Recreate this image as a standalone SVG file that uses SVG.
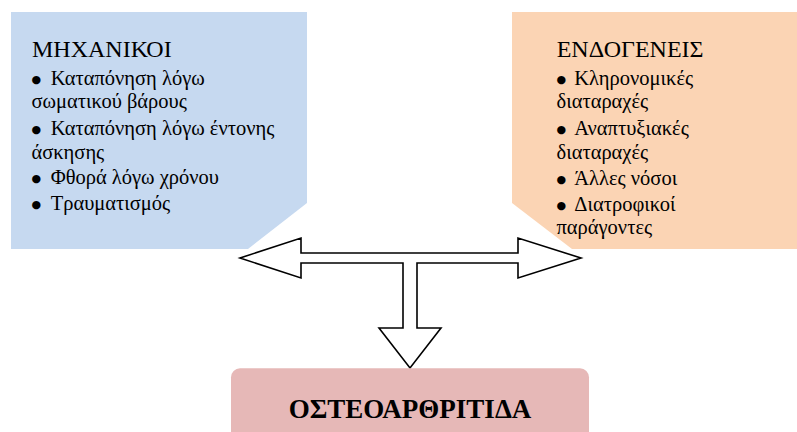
<svg xmlns="http://www.w3.org/2000/svg" width="797" height="432" viewBox="0 0 797 432">
<style>
text{font-family:"Liberation Serif","Times New Roman",serif;fill:#000}
.h{font-size:24px}
.b{font-size:20.5px}
.bu{font-family:"DejaVu Sans",sans-serif;font-size:11px}
.t{font-size:27px;font-weight:bold}
</style>
<rect width="797" height="432" fill="#fff"/>
<g id="mechanical">
<polygon points="11,12 307,12 307,203 248,249 11,249" fill="#c6d9f0"/>
<text class="h" x="32" y="56.7">ΜΗΧΑΝΙΚΟΙ</text>
<text class="bu" x="31.5" y="83">●</text>
<text class="b" x="50.7" y="85">Καταπόνηση λόγω</text>
<text class="b" x="31.5" y="108.3">σωματικού βάρους</text>
<text class="bu" x="31.5" y="133">●</text>
<text class="b" x="50.7" y="135">Καταπόνηση λόγω έντονης</text>
<text class="b" x="31.5" y="159.3">άσκησης</text>
<text class="bu" x="31.5" y="182">●</text>
<text class="b" x="50.7" y="184">Φθορά λόγω χρόνου</text>
<text class="bu" x="31.5" y="208">●</text>
<text class="b" x="50.7" y="210">Τραυματισμός</text>
</g>
<g id="endogenous">
<polygon points="512,12 797,12 797,249 572,249 512,203" fill="#fbd4b4"/>
<text class="h" x="556.7" y="56.7">ΕΝΔΟΓΕΝΕΙΣ</text>
<text class="bu" x="556.5" y="83">●</text>
<text class="b" x="574.3" y="85">Κληρονομικές</text>
<text class="b" x="556.5" y="108.3">διαταραχές</text>
<text class="bu" x="556.5" y="133">●</text>
<text class="b" x="574.3" y="135">Αναπτυξιακές</text>
<text class="b" x="556.5" y="159.3">διαταραχές</text>
<text class="bu" x="556.5" y="183">●</text>
<text class="b" x="574.3" y="185">Άλλες νόσοι</text>
<text class="bu" x="556.5" y="209">●</text>
<text class="b" x="574.3" y="211">Διατροφικοί</text>
<text class="b" x="556.5" y="234">παράγοντες</text>
</g>
<g id="connectors">
<polygon points="240,258 301,238 301,253 518,253 518,238 581,258 518,278 518,263 417,263 417,328 441,328 410,368 379,328 403,328 403,263 301,263 301,278" fill="#fff" stroke="#000" stroke-width="1.6" stroke-linejoin="miter"/>
</g>
<g id="osteoarthritis">
<rect x="231" y="368.3" width="358" height="90" rx="9" fill="#e6b8b7"/>
<text class="t" x="410" y="418" text-anchor="middle">ΟΣΤΕΟΑΡΘΡΙΤΙΔΑ</text>
</g>
</svg>
